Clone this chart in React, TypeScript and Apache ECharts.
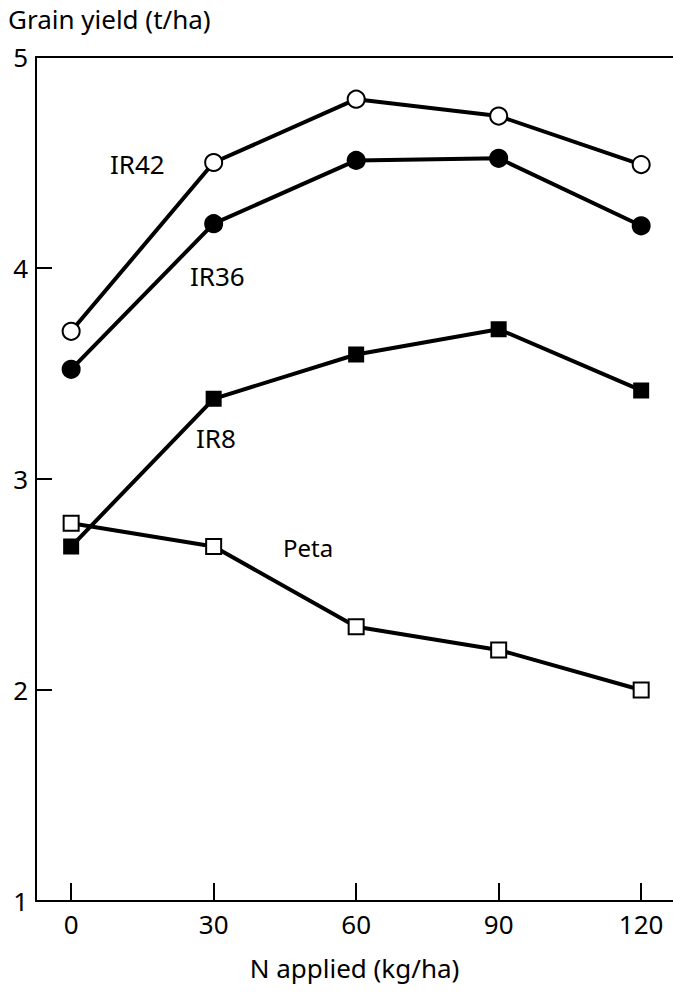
import React, { useEffect, useRef } from "react";
import * as echarts from "echarts";

const nApplied = [0, 30, 60, 90, 120];
const xTicks = [0, 30, 60, 90, 120];
const yTicks = [1, 2, 3, 4, 5];
const ir42 = [3.7, 4.5, 4.8, 4.72, 4.49];
const ir36 = [3.52, 4.21, 4.51, 4.52, 4.2];
const ir8 = [2.68, 3.38, 3.59, 3.71, 3.42];
const peta = [2.79, 2.68, 2.3, 2.19, 2.0];

const FONT = "'Noto Sans', 'DejaVu Sans', sans-serif";

function pairs(vals: number[]) {
  return nApplied.map((x, i) => [x, vals[i]]);
}

export default function App() {
  const ref = useRef<HTMLDivElement>(null);
  useEffect(() => {
    if (!ref.current) return;
    const chart = echarts.init(ref.current, null, { renderer: "svg" });
    const lineStyle = { color: "#000", width: 4 };
    const mk = (name: string, data: number[], symbol: string, size: number, filled: boolean) => ({
      name,
      type: "line",
      data: pairs(data),
      symbol,
      symbolSize: size,
      showAllSymbol: true,
      lineStyle,
      itemStyle: {
        color: filled ? "#000" : "#fff",
        borderColor: "#000",
        borderWidth: 2,
        opacity: 1,
      },
      z: 3,
    });
    chart.setOption({
      animation: false,
      backgroundColor: "#fff",
      grid: { left: 36, right: 0, top: 57, bottom: 92 },
      xAxis: [
        {
          type: "value",
          min: -7.4,
          max: 126.7,
          position: "bottom",
          axisLine: { show: true, onZero: false, lineStyle: { color: "#000", width: 2 } },
          axisTick: {
            show: true,
            inside: true,
            length: 18,
            customValues: xTicks,
            lineStyle: { color: "#000", width: 2 },
          },
          axisLabel: {
            customValues: xTicks,
            color: "#000",
            fontSize: 26,
            fontFamily: FONT,
            margin: 10,
          },
          splitLine: { show: false },
          name: "N applied (kg/ha)",
          nameLocation: "middle",
          nameGap: 54,
          nameTextStyle: { color: "#000", fontSize: 26, fontFamily: FONT },
        },
        {
          type: "value",
          min: -7.4,
          max: 126.7,
          position: "top",
          axisLine: { show: true, onZero: false, lineStyle: { color: "#000", width: 2 } },
          axisTick: { show: false },
          axisLabel: { show: false },
          splitLine: { show: false },
        },
      ],
      yAxis: {
        type: "value",
        min: 1,
        max: 5,
        interval: 1,
        axisLine: { show: true, onZero: false, lineStyle: { color: "#000", width: 2 } },
        axisTick: { show: true, inside: true, length: 16, lineStyle: { color: "#000", width: 2 } },
        axisLabel: {
          color: "#000",
          fontSize: 26,
          fontFamily: FONT,
          margin: 8,
          formatter: (v: number) => (yTicks.includes(v) ? String(v) : ""),
        },
        splitLine: { show: false },
      },
      graphic: [
        {
          type: "text",
          left: 8,
          top: 6,
          style: { text: "Grain yield (t/ha)", fill: "#000", fontSize: 26, fontFamily: FONT },
        },
        {
          type: "text",
          left: 110,
          top: 151,
          style: { text: "IR42", fill: "#000", fontSize: 26, fontFamily: FONT },
        },
        {
          type: "text",
          left: 190,
          top: 263,
          style: { text: "IR36", fill: "#000", fontSize: 26, fontFamily: FONT },
        },
        {
          type: "text",
          left: 196,
          top: 425,
          style: { text: "IR8", fill: "#000", fontSize: 26, fontFamily: FONT },
        },
        {
          type: "text",
          left: 283,
          top: 535,
          style: { text: "Peta", fill: "#000", fontSize: 24, fontFamily: FONT },
        },
      ],
      series: [
        mk("IR42", ir42, "circle", 17, false),
        mk("IR36", ir36, "circle", 17, true),
        mk("IR8", ir8, "rect", 14, true),
        mk("Peta", peta, "rect", 15, false),
      ],
    });
    return () => chart.dispose();
  }, []);
  return (
    <div
      ref={ref}
      style={{ position: "absolute", left: 0, top: 0, width: 673, height: 993 }}
    />
  );
}
